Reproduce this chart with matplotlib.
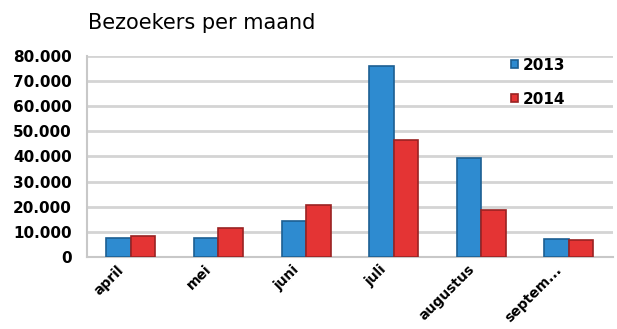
import matplotlib.pyplot as plt
import matplotlib.transforms as mtransforms
import numpy as np
from matplotlib.ticker import FuncFormatter

maanden = ['april', 'mei', 'juni', 'juli', 'augustus', 'septem...']
bezoekers_2013 = [7700, 7700, 14300, 76100, 39300, 7000]
bezoekers_2014 = [8500, 11700, 20700, 46600, 18700, 6600]

fig = plt.figure(figsize=(6.17, 3.29), dpi=100)
ax = fig.add_axes([0.141, 0.219, 0.852, 0.611])

x = np.arange(len(maanden))
w = 0.28
ax.bar(x - w/2, bezoekers_2013, w, color='#2e8bd0', edgecolor='#1d5f92', linewidth=1.2, label='2013', zorder=3)
ax.bar(x + w/2, bezoekers_2014, w, color='#e43434', edgecolor='#9a2222', linewidth=1.2, label='2014', zorder=3)

ax.set_ylim(0, 80000)
ax.set_xlim(-0.5, len(maanden) - 0.5)
ax.set_yticks(np.arange(0, 80001, 10000))
ax.yaxis.set_major_formatter(FuncFormatter(lambda v, p: f'{int(v):,}'.replace(',', '.')))
ax.grid(axis='y', color='#d4d4d4', linewidth=2, zorder=0)
for s in ['top', 'right']:
    ax.spines[s].set_visible(False)
ax.spines['left'].set_color('#c8c8c8')
ax.spines['bottom'].set_color('#c8c8c8')
ax.spines['left'].set_linewidth(1.5)
ax.spines['bottom'].set_linewidth(1.5)
ax.tick_params(axis='y', length=0, pad=11)
ax.tick_params(axis='x', length=0, pad=4)

ax.set_xticks(x)
ax.set_xticklabels(maanden, rotation=45, ha='right', rotation_mode='anchor', fontweight='bold', fontsize=10)
shift = mtransforms.ScaledTranslation(-0.14, 0, fig.dpi_scale_trans)
for lbl in ax.get_xticklabels():
    lbl.set_transform(lbl.get_transform() + shift)
for lbl in ax.get_yticklabels():
    lbl.set_fontweight('bold')
    lbl.set_fontsize(11)

ax.legend(loc='upper right', bbox_to_anchor=(0.935, 1.06), frameon=False, handlelength=0.45, handleheight=0.45,
          handletextpad=0.3, labelspacing=1.25, prop={'weight': 'bold', 'size': 11})

fig.text(0.143, 0.93, 'Bezoekers per maand', fontsize=15, va='center', ha='left')

fig.savefig('out.png', dpi=100)
